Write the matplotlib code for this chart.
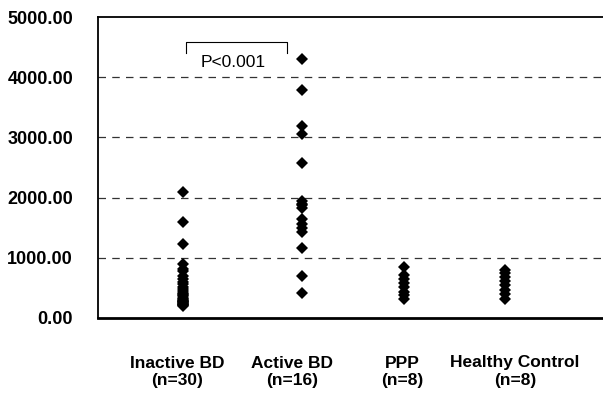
import matplotlib
matplotlib.use("Agg")
import matplotlib.pyplot as plt

plt.rcParams['font.family'] = ['Liberation Sans', 'DejaVu Sans']

# Group labels and values
groups = ["Inactive BD\n(n=30)", "Active BD\n(n=16)", "PPP\n(n=8)", "Healthy Control\n(n=8)"]
inactive_bd = [2100, 1600, 1230, 900, 820, 780, 700, 640, 600, 560, 520, 480, 450,
               420, 400, 380, 360, 340, 320, 300, 290, 280, 270, 260, 250, 240,
               230, 220, 210, 200]
active_bd = [4310, 3790, 3190, 3050, 2570, 1950, 1900, 1820, 1640, 1560, 1500,
             1430, 1160, 700, 410, 1880]
ppp = [850, 720, 650, 580, 510, 440, 380, 320]
healthy_control = [800, 740, 680, 610, 540, 470, 400, 320]
series = [inactive_bd, active_bd, ppp, healthy_control]
yticks = [0, 1000, 2000, 3000, 4000, 5000]
p_text = "P<0.001"

# Layout (horizontal placement of columns and their labels)
point_pos = [0.85, 2.04, 3.06, 4.07]
label_pos = [0.79, 1.94, 3.04, 4.17]

fig = plt.figure(figsize=(6.03, 3.93), dpi=100)
ax = fig.add_axes([98 / 603, 1 - 318 / 393, 1 - 98 / 603, (318 - 17) / 393])

for pos, vals in zip(point_pos, series):
    ax.plot([pos] * len(vals), vals, linestyle='none', marker='D',
            markersize=5.8, color='black', markeredgewidth=0)

ax.set_xlim(0, 5.05)
ax.set_ylim(0, 5000)
ax.set_yticks(yticks)
ax.set_yticklabels([f"{v:.2f}" for v in yticks], fontsize=13, fontweight='bold')
ax.set_xticks(label_pos)
ax.set_xticklabels(groups, fontsize=12.5, fontweight='bold', linespacing=1.2)
ax.tick_params(axis='y', length=0, pad=18)
ax.tick_params(axis='x', length=0, pad=27)

for v in yticks[1:-1]:
    ax.axhline(v, color='#333333', linestyle=(0, (6, 5)), linewidth=0.9, zorder=0)

ax.spines['right'].set_visible(False)
ax.spines['left'].set_linewidth(1.3)
ax.spines['top'].set_linewidth(1.3)
ax.spines['bottom'].set_linewidth(2.0)

# Significance bracket between the first two groups
ax.plot([0.88, 0.88, 1.89, 1.89], [4400, 4585, 4585, 4400], color='black', linewidth=0.8)
ax.text(1.35, 4250, p_text, ha='center', va='center', fontsize=12.5)

fig.savefig("out.png", dpi=100)
